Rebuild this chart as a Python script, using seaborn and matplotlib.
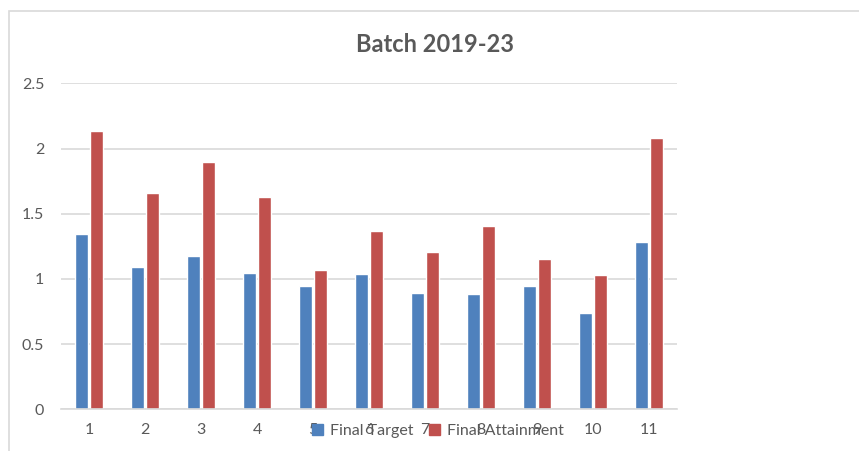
import pandas as pd
import seaborn as sns
import matplotlib.pyplot as plt
from matplotlib.patches import Rectangle

# values
categories = ['1', '2', '3', '4', '5', '6', '7', '8', '9', '10', '11']
final_target = [1.345, 1.094, 1.176, 1.045, 0.948, 1.035, 0.890, 0.887, 0.943, 0.736, 1.280]
final_attainment = [2.134, 1.656, 1.896, 1.631, 1.066, 1.370, 1.204, 1.406, 1.150, 1.030, 2.081]
series_names = ['Final Target', 'Final Attainment']
series_colors = ['#4F81BD', '#C0504D']
y_ticks = [0, 0.5, 1, 1.5, 2, 2.5]
y_labels = ['0', '0.5', '1', '1.5', '2', '2.5']

data = pd.DataFrame({
    'batch': categories * 2,
    'value': final_target + final_attainment,
    'series': [series_names[0]] * len(categories) + [series_names[1]] * len(categories),
})

sns.set_style('white')
plt.rcParams['font.family'] = ['Lato', 'DejaVu Sans']

W, H = 859, 451
fig = plt.figure(figsize=(W / 100, H / 100), dpi=100)
ax = fig.add_axes([61 / W, 1 - 409.3 / H, (677 - 61) / W, (409.3 - 83.3) / H])

sns.barplot(data=data, x='batch', y='value', hue='series', order=categories,
            hue_order=series_names, palette=series_colors, width=0.52, gap=0.12,
            saturation=1, ax=ax, legend=False)

# excel-like grid and axes
ax.set_ylim(0, 2.5)
ax.set_xlim(-0.5, len(categories) - 0.5)
ax.set_yticks(y_ticks)
ax.set_yticklabels(y_labels)
ax.yaxis.grid(True, color='#D9D9D9', linewidth=1.2)
ax.set_axisbelow(True)
for s in ['top', 'right', 'left']:
    ax.spines[s].set_visible(False)
ax.spines['bottom'].set_color('#D9D9D9')
ax.spines['bottom'].set_linewidth(1.2)
ax.tick_params(axis='y', length=0, pad=12, labelsize=11.5, labelcolor='#595959')
ax.tick_params(axis='x', length=0, pad=10, labelsize=11.5, labelcolor='#595959')
ax.set_xlabel('')
ax.set_ylabel('')

fig.text(435 / W, 1 - 45 / H, 'Batch 2019-23', ha='center', va='center',
         fontsize=17, fontweight='bold', color='#595959')

# legend overlapping the tick labels, as in the reference
handles = [Rectangle((0, 0), 1, 1, color=c) for c in series_colors]
fig.legend(handles, series_names, loc='center', bbox_to_anchor=(438 / W, 1 - 431 / H),
           ncol=2, frameon=False, fontsize=11.5, labelcolor='#595959',
           handlelength=0.7, handleheight=0.7, handletextpad=0.4, columnspacing=1.0)

# chart area border (cut off on the right and bottom)
fig.patches.append(Rectangle((9 / W, -0.1), 1.1, 1 - 11 / H + 0.1, transform=fig.transFigure,
                             fill=False, edgecolor='#D9D9D9', linewidth=1.2))

fig.savefig('out.png', dpi=100)
